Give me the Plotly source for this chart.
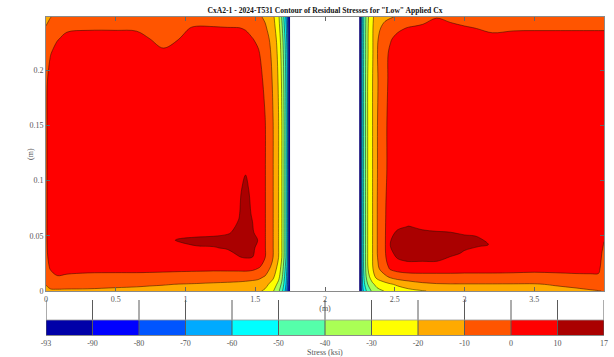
import plotly.graph_objects as go

TITLE = 'CxA2-1 - 2024-T531 Contour of Residual Stresses for "Low" Applied Cx'

LEVEL_START, LEVEL_END, LEVEL_STEP = -90, 10, 10
BAND_COLORS = ['#0000A8', '#0000FF', '#0055FF', '#00AAFF', '#00FFFF', '#55FFAA',
               '#AAFF55', '#FFFF00', '#FFAA00', '#FF5500', '#FF0000', '#AA0000']
CBAR_LABELS = ['-93', '-90', '-80', '-70', '-60', '-50', '-40', '-30', '-20', '-10', '0', '10', '17']

X_TICKS = [0, 0.5, 1, 1.5, 2, 2.5, 3, 3.5]
X_TICKTEXT = ['0', '0.5', '1', '1.5', '2', '2.5', '3', '3.5']
Y_TICKS = [0, 0.05, 0.1, 0.15, 0.2]
Y_TICKTEXT = ['0', '0.05', '0.1', '0.15', '0.2']
X_RANGE = [0, 4.0]
Y_RANGE = [0, 0.248]

# ---------------- left panel (stress, ksi) ----------------
LEFT_X = [0, 0.03, 0.08, 0.15, 0.3, 0.5, 0.65, 0.74, 0.84, 0.94, 1.08, 1.2, 1.3, 1.38,
          1.43, 1.48, 1.52, 1.57, 1.627, 1.667, 1.69, 1.706, 1.72, 1.73, 1.74, 1.75]
LEFT_Y = [0, 0.006, 0.013, 0.022, 0.031, 0.039, 0.046, 0.053, 0.07, 0.09, 0.11, 0.15,
          0.19, 0.215, 0.228, 0.238, 0.248]
LEFT_Z = [
    [-14, -11, -11.5, -11.5, -11.5, -12, -12.5, -13, -13.5, -14, -14.5, -15, -15.5, -16, -16.5, -17.5, -18.5,
     -21.5, -29, -38, -47, -55, -64, -73, -83, -93],
    [-9.5, -8, -6, -6.5, -7, -8, -8.5, -9, -9.5, -10.2, -10.8, -11.5, -12, -12.5, -13, -13.5, -14,
     -17, -24, -33, -42, -51, -60, -69, -80, -93],
    [-6.5, -2.5, -0.3, -1, -1.8, -2, -2, -2.2, -2.5, -3, -3.5, -4, -4.5, -5, -5.5, -6.5, -7.5,
     -10.5, -18, -27, -37, -47, -57, -66, -79, -93],
    [-3.5, 1, 2.5, 3, 3, 3, 3, 3, 3, 3, 3, 3, 3.5, 4, 4.5, 4, 1.5,
     -3, -13, -23, -33, -43, -53, -63, -78, -93],
    [-1.8, 2.5, 4.5, 5, 5.5, 5.5, 5.5, 6, 6.5, 7, 7.5, 8, 8.5, 9.8, 10.8, 10.3, 5,
     0.5, -9.6, -19.6, -29.6, -39.6, -49.6, -61, -78, -93],
    [-1.3, 3, 5, 5.5, 6, 6, 6.5, 7, 7.5, 8, 9.7, 9.8, 10.3, 12, 13, 11.5, 8,
     0.5, -9.6, -19.6, -29.6, -39.6, -49.6, -61, -78, -93],
    [-1.2, 3.5, 5, 5.5, 6, 6.5, 7, 7.5, 8, 10.3, 10.8, 11, 11.5, 12.5, 14, 12.5, 9.8,
     0.5, -9.6, -19.6, -29.6, -39.6, -49.6, -61, -78, -93],
    [-1.2, 3.5, 5, 5.5, 6, 6.5, 7, 7, 7.5, 8, 8.8, 9, 9.5, 11, 13.5, 11, 7,
     0.5, -9.6, -19.6, -29.6, -39.6, -49.6, -61, -78, -93],
    [-1.2, 3.5, 5, 5.5, 6, 6.5, 6.5, 6.5, 7, 7, 7.5, 7.5, 7.5, 9.5, 12.5, 9.3, 6,
     0.5, -9.6, -19.6, -29.6, -39.6, -49.6, -61, -78, -93],
    [-1.2, 3.5, 5, 5.5, 6, 6.5, 6.5, 6.5, 7, 7, 7, 7.5, 7.5, 9, 11.5, 8.5, 5.5,
     0.5, -9.6, -19.6, -29.6, -39.6, -49.6, -61, -78, -93],
    [-1.2, 3.5, 5, 5.5, 6, 6.5, 6.5, 6.5, 7, 7, 7, 7, 7, 8, 9.5, 7.5, 5,
     0.5, -9.6, -19.6, -29.6, -39.6, -49.6, -61, -78, -93],
    [-1.2, 3.5, 5, 5.5, 6, 6.5, 6.5, 6.5, 6.5, 6.5, 6.5, 6.5, 6.5, 7, 7, 6.5, 4.5,
     0.5, -9.6, -19.6, -29.6, -39.6, -49.6, -61, -78, -93],
    [-1.6, 3, 4.5, 5.5, 6, 6, 6, 5.5, 5, 5.5, 6, 6, 6, 5.5, 5, 4.5, 3,
     -1.5, -11, -21, -31, -41, -51, -62, -78, -93],
    [-4, -0.5, 3, 4, 5, 5, 4.5, 2.5, 1.5, 2.5, 4.5, 4.5, 4.5, 4.2, 4, 2.5, 1,
     -3.5, -12.5, -22.5, -33, -43, -53, -63, -78, -93],
    [-6, -3, -0.5, 2, 3, 3, 2.5, 0.2, -2.5, -0.3, 3, 3, 3, 2.5, 2, 0.3, -1.5,
     -5.5, -14, -24, -35, -45, -55, -65, -79, -93],
    [-9.5, -6, -3, -1.2, -0.8, -0.8, -1, -3, -5, -1.5, 0.8, 0.6, 0.3, 0.2, -0.5, -2.5, -4.5,
     -8.5, -16, -26, -37.5, -48, -58, -68, -80, -93],
    [-12, -10.5, -7, -5, -4.5, -4.5, -5, -6, -6.5, -5.5, -4, -4, -4.5, -5, -5.5, -6.5, -8,
     -11.5, -18, -28, -40.5, -51, -61, -71, -82, -93],
]

# ---------------- right panel (stress, ksi) ----------------
RIGHT_X = [2.245, 2.252, 2.262, 2.275, 2.29, 2.305, 2.34, 2.373, 2.43, 2.47, 2.52, 2.6, 2.7,
           2.8, 2.9, 3.0, 3.1, 3.2, 3.35, 3.5, 3.65, 3.8, 3.9, 3.96, 4.0]
RIGHT_Y = [0, 0.006, 0.013, 0.02, 0.027, 0.034, 0.042, 0.05, 0.058, 0.066, 0.08, 0.11,
           0.15, 0.19, 0.215, 0.228, 0.238, 0.248]
RIGHT_Z = [
    [-93, -89, -70, -60, -53, -46, -38, -33, -29.5, -27, -25, -22.5, -20.5, -18.5, -17, -16,
     -15.5, -15, -14, -13, -12, -11, -10.5, -10.2, -9.8],
    [-93, -88.5, -67, -55, -47, -40.5, -32, -27, -23, -21, -18.5, -15, -12, -10.8, -10.5, -10.5,
     -10.5, -10.5, -10.5, -10.5, -9.5, -8.8, -8, -7, -8],
    [-93, -88.5, -66, -52.5, -43, -34, -24, -17, -12, -8, -5, -3.5, -3, -3, -3, -3,
     -3, -3, -3.5, -4, -3, -2, -1.5, -1, -6],
    [-93, -88.5, -65.5, -51, -41, -31, -21, -12.5, -4, 1, 3, 4, 4, 4, 4, 3.5,
     3.5, 3.5, 3.5, 3, 3, 3, 2.5, 1.5, -4],
    [-93, -88.5, -65, -50.5, -40.3, -30.3, -20.3, -11, -2, 5, 9, 10.3, 10.1, 10.1, 8.5, 7.5,
     7, 6.5, 6, 5.5, 5, 4.5, 4, 2.5, -3],
    [-93, -88.5, -65, -50.5, -40.3, -30.3, -20.3, -10.3, -1, 8.5, 12, 12.5, 12, 11.5, 11, 9.5,
     8.3, 7.5, 7, 6.5, 6, 5.5, 5, 3, -2],
    [-93, -88.5, -65, -50.5, -40.3, -30.3, -20.3, -10.3, -0.8, 10.5, 13, 13.5, 13, 12.5, 12, 11,
     10.5, 9.8, 8, 7, 6.5, 6, 5.5, 4, -0.5],
    [-93, -88.5, -65, -50.5, -40.3, -30.3, -20.3, -10.3, -0.8, 9, 12, 12.5, 12, 11.5, 11, 10.2,
     9.9, 9.6, 8, 7, 6.5, 6, 5.5, 4.5, 1],
    [-93, -88.5, -65, -50.5, -40.3, -30.3, -20.3, -10.3, -0.8, 7, 9, 10.3, 9, 8.5, 8.5, 8,
     7.5, 7.5, 7, 6.5, 6.5, 6, 5.5, 5, 3],
    [-93, -88.5, -65, -50.5, -40.3, -30.3, -20.3, -10.3, -0.8, 5.5, 7, 7, 7, 7, 7, 7,
     7, 7, 6.5, 6.5, 6.5, 6, 5.5, 5, 4],
    [-93, -88.5, -65, -50.5, -40.3, -30.3, -20.3, -10.3, -0.8, 4, 5.5, 6, 6, 6, 6, 6,
     6, 6, 6, 6, 6, 6, 5.5, 5.5, 5],
    [-93, -88.5, -65, -50.5, -40.3, -30.3, -20.3, -10.5, -1.5, 3, 5, 6, 6, 6, 6, 6,
     6, 6, 6, 6, 6, 6, 5.5, 5.5, 5],
    [-93, -88.5, -65, -50.5, -40.3, -30.3, -20.3, -10.5, -1.5, 3, 5, 6, 6, 6, 6, 6,
     6, 6, 6, 6, 6, 6, 5.5, 5.5, 5],
    [-93, -88.5, -65, -50.5, -40.3, -30.3, -20.3, -11, -2.5, 2.5, 5, 6, 6, 6, 6, 6,
     6, 6, 6, 6, 6, 6, 5.5, 5.5, 5],
    [-93, -88.5, -65, -51, -41, -31, -21, -10.5, -2, 1.5, 4, 5, 5.5, 5.5, 5.5, 5.5,
     5, 4.5, 4.5, 4.5, 4.5, 4.5, 4.5, 4.5, 4.5],
    [-93, -88.5, -65, -51, -41, -31, -21, -11, -4, -0.5, 2, 3.5, 4.5, 5, 4.5, 4,
     3, 2, 2, 2, 2, 2, 2, 2, 2],
    [-93, -88.5, -65.5, -51.5, -41.3, -31.3, -21, -12.5, -7, -4, -1.5, 0.5, 1.5, 2.5, 1.5, 0.8,
     -0.3, -1.5, -0.7, -0.6, -0.6, -0.6, -0.6, -0.6, -0.6],
    [-93, -88.5, -66, -52, -42, -32, -21.5, -15, -12, -10.8, -9, -6, -3, -0.3, -1.5, -3.5,
     -4.5, -5, -5, -5, -5, -5, -5, -5, -5],
]

# ---------------- colour scales ----------------
n_bands = len(BAND_COLORS)
nseg = n_bands - 1
contour_cs = []
for k, c in enumerate(BAND_COLORS):
    contour_cs.append([max(0.0, (k - 0.5) / nseg), c])
    contour_cs.append([min(1.0, (k + 0.5) / nseg), c])
zmin = LEVEL_START - LEVEL_STEP / 2
zmax = LEVEL_END + LEVEL_STEP / 2

bar_cs = []
for k, c in enumerate(BAND_COLORS):
    bar_cs.append([k / n_bands, c])
    bar_cs.append([(k + 1) / n_bands, c])

FONT = 'Liberation Serif'
W, H = 614, 357
M_L, M_R, M_T, M_B = 46, 10, 17, 22
PH = H - M_T - M_B
PW = W - M_L - M_R
MAIN_BOTTOM_PX = 291
CB_TOP_PX = 300
BAND_TOP_PX = 320
CB_BOTTOM_PX = H - M_B
cb_top_y = (CB_BOTTOM_PX - CB_TOP_PX) / (CB_BOTTOM_PX - BAND_TOP_PX)
main_y0 = (CB_BOTTOM_PX - MAIN_BOTTOM_PX) / PH

fig = go.Figure()

common = dict(
    colorscale=contour_cs, zmin=zmin, zmax=zmax, autocontour=False,
    contours=dict(start=LEVEL_START, end=LEVEL_END, size=LEVEL_STEP, coloring='fill'),
    line=dict(color='rgba(40,15,0,0.85)', width=0.6, smoothing=1),
    showscale=False, hoverinfo='skip',
)
fig.add_trace(go.Contour(x=LEFT_X, y=LEFT_Y, z=LEFT_Z, **common))
fig.add_trace(go.Contour(x=RIGHT_X, y=RIGHT_Y, z=RIGHT_Z, **common))

# colour bar drawn as a heatmap strip
edges = list(range(n_bands + 1))
fig.add_trace(go.Heatmap(
    x=edges, y=[0, 1], z=[list(range(n_bands))], colorscale=bar_cs,
    zmin=-0.5, zmax=n_bands - 0.5, showscale=False, hoverinfo='skip',
    xaxis='x2', yaxis='y2'))
lx, ly = [], []
for e in edges:
    lx += [e, e, None]
    ly += [0, cb_top_y, None]
fig.add_trace(go.Scatter(x=lx, y=ly, mode='lines', line=dict(color='#5a5a5a', width=1),
                         hoverinfo='skip', showlegend=False, xaxis='x2', yaxis='y2'))
fig.add_trace(go.Scatter(x=[edges[0], edges[-1]], y=[1, 1], mode='lines',
                         line=dict(color='#9a9a9a', width=0.8),
                         hoverinfo='skip', showlegend=False, xaxis='x2', yaxis='y2'))

tickfont = dict(family=FONT, size=8, color='#555555')
titlefont = dict(family=FONT, size=8, color='#555555')
fig.update_layout(
    template='none',
    width=W, height=H,
    margin=dict(l=M_L, r=M_R, t=M_T, b=M_B, pad=0, autoexpand=False),
    paper_bgcolor='white', plot_bgcolor='white',
    showlegend=False,
    hovermode=False,
    title=dict(text='<b>' + TITLE + '</b>', x=0.5, xref='paper', xanchor='center',
               y=1 - 10 / H, yref='container', yanchor='middle',
               font=dict(family=FONT, size=7.6, color='#111111')),
    xaxis=dict(domain=[0, 1], range=X_RANGE, anchor='y', tickvals=X_TICKS, ticktext=X_TICKTEXT,
               ticks='inside', ticklen=4, tickcolor='#666666', showline=True, mirror='ticks',
               linecolor='#8a8a8a', linewidth=1, showgrid=False, zeroline=False,
               automargin=False, tickfont=tickfont,
               title=dict(text='(m)', font=titlefont, standoff=0)),
    yaxis=dict(domain=[main_y0, 1], range=Y_RANGE, anchor='x',
               tickvals=Y_TICKS, ticktext=Y_TICKTEXT,
               ticks='inside', ticklen=4, tickcolor='#666666', showline=True, mirror='ticks',
               linecolor='#8a8a8a', linewidth=1, showgrid=False, zeroline=False,
               automargin=False, tickfont=tickfont),
    xaxis2=dict(domain=[0, 1], range=[edges[0], edges[-1]], anchor='y2', tickvals=edges,
                ticktext=CBAR_LABELS, ticks='', showline=True, linecolor='#8a8a8a', linewidth=1,
                showgrid=False, zeroline=False, automargin=False, tickfont=tickfont),
    yaxis2=dict(domain=[0, (CB_BOTTOM_PX - CB_TOP_PX) / PH], range=[0, cb_top_y], anchor='x2',
                visible=False),
    annotations=[
        dict(text='(m)', xref='paper', yref='paper', x=(30 - M_L) / PW,
             y=(main_y0 + 1) / 2, textangle=-90, showarrow=False, font=titlefont,
             xanchor='center', yanchor='middle'),
        dict(text='Stress (ksi)', xref='paper', yref='paper', x=0.5,
             y=-(352 - CB_BOTTOM_PX) / PH, showarrow=False, font=titlefont,
             xanchor='center', yanchor='middle'),
    ],
)

fig.write_html('out.html', config={'displayModeBar': False, 'staticPlot': True},
               post_script="document.body.style.margin='0';document.body.style.padding='0';")
